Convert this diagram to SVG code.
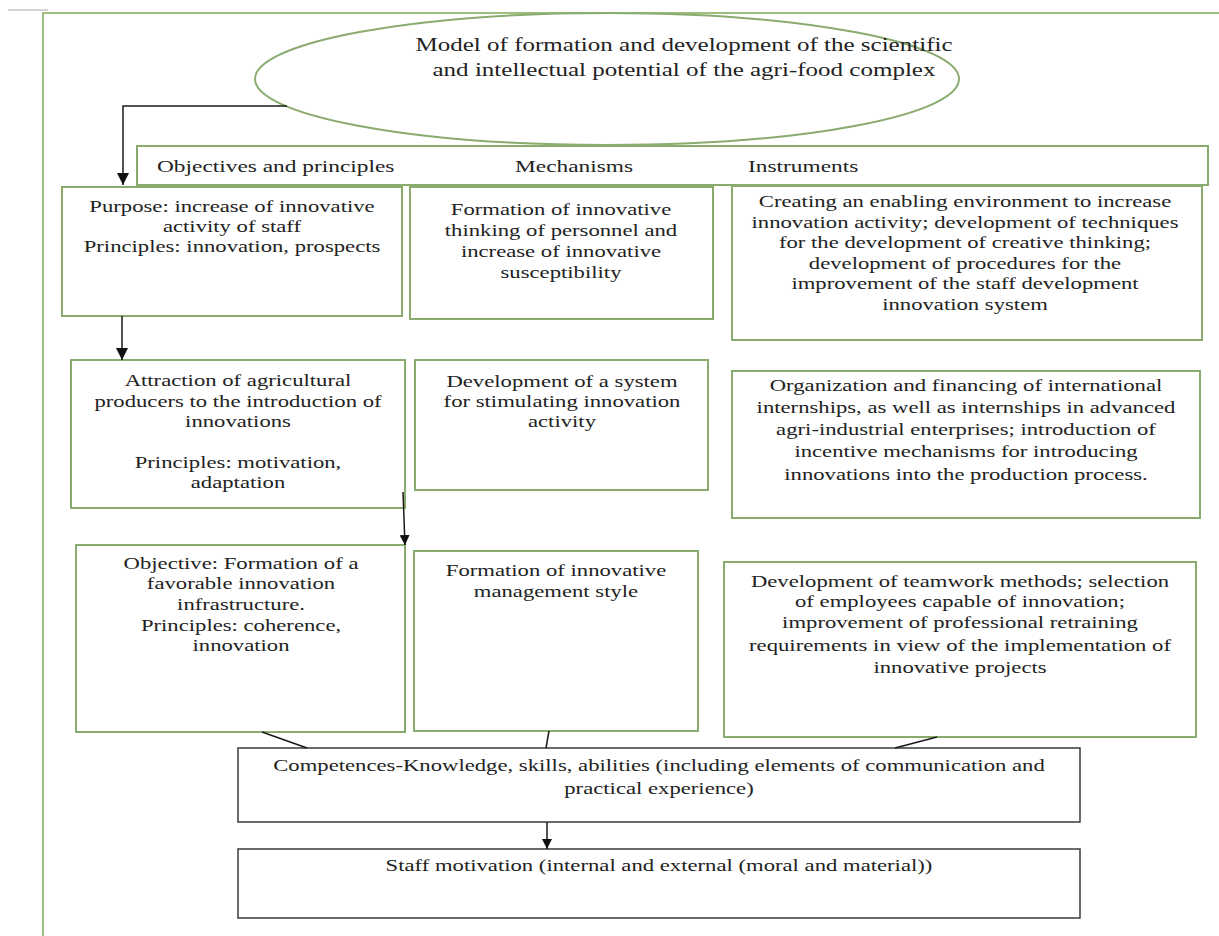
<svg xmlns="http://www.w3.org/2000/svg" width="1219" height="936" viewBox="0 0 1219 936">
<style>
.box{fill:#fff;stroke:#8aab6e;stroke-width:2}
.bbox{fill:#fff;stroke:#3a3a3a;stroke-width:1.5}
.frame{fill:none;stroke:#9cbf80;stroke-width:2}
.t{font-family:"Liberation Serif","Times New Roman",serif;font-size:16.5px;fill:#222;text-anchor:middle}
.h{font-family:"Liberation Serif","Times New Roman",serif;font-size:17px;fill:#222;text-anchor:start}
.ttl{font-size:18.2px}
.c{stroke:#1a1a1a;stroke-width:1.5;fill:none}
</style>
<defs>
<marker id="ah" markerUnits="userSpaceOnUse" markerWidth="14" markerHeight="12" refX="12" refY="6" orient="auto">
<path d="M0,0 L12,6 L0,12 Z" fill="#111"/>
</marker>
<marker id="ahs" markerUnits="userSpaceOnUse" markerWidth="12" markerHeight="10" refX="10" refY="5" orient="auto">
<path d="M0,0 L10,5 L0,10 Z" fill="#111"/>
</marker>
</defs>
<rect width="1219" height="936" fill="#fff"/>
<g id="frame">
<line x1="8" y1="10" x2="48" y2="10" stroke="#c8c8c8" stroke-width="1.5"/>
<path class="frame" d="M43,936 V13 H1219"/>
</g>
<g id="title">
<ellipse class="box" cx="607" cy="79" rx="352" ry="66"/>
<text class="t ttl" transform="matrix(1.375 0 0 1 684 51)"><tspan x="0" y="0">Model of formation and development of the scientific</tspan><tspan x="0" y="25">and intellectual potential of the agri-food complex</tspan></text>
</g>
<g id="header">
<rect class="box" x="137" y="146" width="1071" height="39"/>
<text class="h" transform="matrix(1.375 0 0 1 157 172)">Objectives and principles</text>
<text class="h" transform="matrix(1.375 0 0 1 515 172)">Mechanisms</text>
<text class="h" transform="matrix(1.375 0 0 1 748 172)">Instruments</text>
</g>
<g id="purpose">
<rect class="box" x="62" y="187" width="340" height="129"/>
<text class="t" transform="matrix(1.375 0 0 1 232 212)"><tspan x="0" y="0">Purpose: increase of innovative</tspan><tspan x="0" y="20">activity of staff</tspan><tspan x="0" y="40">Principles: innovation, prospects</tspan></text>
</g>
<g id="mech1">
<rect class="box" x="410" y="187" width="303" height="132"/>
<text class="t" transform="matrix(1.375 0 0 1 561 215)"><tspan x="0" y="0">Formation of innovative</tspan><tspan x="0" y="21">thinking of personnel and</tspan><tspan x="0" y="42">increase of innovative</tspan><tspan x="0" y="63">susceptibility</tspan></text>
</g>
<g id="instr1">
<rect class="box" x="732" y="186" width="470" height="154"/>
<text class="t" transform="matrix(1.375 0 0 1 965 207)"><tspan x="0" y="0">Creating an enabling environment to increase</tspan><tspan x="0" y="20.6">innovation activity; development of techniques</tspan><tspan x="0" y="41.2">for the development of creative thinking;</tspan><tspan x="0" y="61.8">development of procedures for the</tspan><tspan x="0" y="82.4">improvement of the staff development</tspan><tspan x="0" y="103">innovation system</tspan></text>
</g>
<g id="attraction">
<rect class="box" x="71" y="360" width="334" height="148"/>
<text class="t" transform="matrix(1.375 0 0 1 238 386)"><tspan x="0" y="0">Attraction of agricultural</tspan><tspan x="0" y="21">producers to the introduction of</tspan><tspan x="0" y="41">innovations</tspan><tspan x="0" y="82">Principles: motivation,</tspan><tspan x="0" y="102">adaptation</tspan></text>
</g>
<g id="mech2">
<rect class="box" x="415" y="360" width="293" height="130"/>
<text class="t" transform="matrix(1.375 0 0 1 562 387)"><tspan x="0" y="0">Development of a system</tspan><tspan x="0" y="20">for stimulating innovation</tspan><tspan x="0" y="40">activity</tspan></text>
</g>
<g id="instr2">
<rect class="box" x="732" y="371" width="468" height="147"/>
<text class="t" transform="matrix(1.375 0 0 1 966 391)"><tspan x="0" y="0">Organization and financing of international</tspan><tspan x="0" y="22">internships, as well as internships in advanced</tspan><tspan x="0" y="44.5">agri-industrial enterprises; introduction of</tspan><tspan x="0" y="66">incentive mechanisms for introducing</tspan><tspan x="0" y="89">innovations into the production process.</tspan></text>
</g>
<g id="objective">
<rect class="box" x="76" y="545" width="329" height="187"/>
<text class="t" transform="matrix(1.375 0 0 1 241 569)"><tspan x="0" y="0">Objective: Formation of a</tspan><tspan x="0" y="20.5">favorable innovation</tspan><tspan x="0" y="41">infrastructure.</tspan><tspan x="0" y="62">Principles: coherence,</tspan><tspan x="0" y="82">innovation</tspan></text>
</g>
<g id="mech3">
<rect class="box" x="414" y="551" width="284" height="180"/>
<text class="t" transform="matrix(1.375 0 0 1 556 576)"><tspan x="0" y="0">Formation of innovative</tspan><tspan x="0" y="21">management style</tspan></text>
</g>
<g id="instr3">
<rect class="box" x="724" y="562" width="472" height="175"/>
<text class="t" transform="matrix(1.375 0 0 1 960 587)"><tspan x="0" y="0">Development of teamwork methods; selection</tspan><tspan x="0" y="20.5">of employees capable of innovation;</tspan><tspan x="0" y="41">improvement of professional retraining</tspan><tspan x="0" y="64">requirements in view of the implementation of</tspan><tspan x="0" y="86">innovative projects</tspan></text>
</g>
<g id="competences">
<rect class="bbox" x="238" y="748" width="842" height="74"/>
<text class="t" transform="matrix(1.375 0 0 1 659 771)"><tspan x="0" y="0">Competences-Knowledge, skills, abilities (including elements of communication and</tspan><tspan x="0" y="23">practical experience)</tspan></text>
</g>
<g id="motivation">
<rect class="bbox" x="238" y="849" width="842" height="69"/>
<text class="t" transform="matrix(1.375 0 0 1 659 871)">Staff motivation (internal and external (moral and material))</text>
</g>
<g id="connectors">
<path class="c" d="M287,106 H123 V185" marker-end="url(#ah)"/>
<path class="c" d="M122,316 V360" marker-end="url(#ah)"/>
<path class="c" d="M403,492 L405,545" marker-end="url(#ahs)"/>
<path class="c" d="M547,822 V849" marker-end="url(#ahs)"/>
<path class="c" d="M262,732 L307,748"/>
<path class="c" d="M549,731 L546,748"/>
<path class="c" d="M937,737 L895,748"/>
</g>
</svg>
